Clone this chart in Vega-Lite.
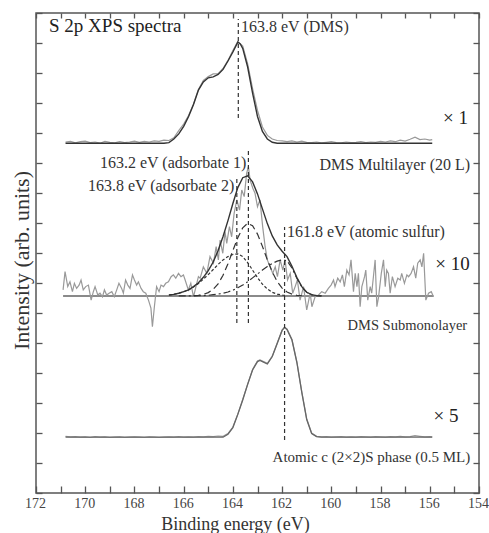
{
"$schema": "https://vega.github.io/schema/vega-lite/v6.json",
"width": 443,
"height": 480,
"autosize": {"type": "none"},
"padding": {"left": 36, "top": 13, "right": 10, "bottom": 40},
"config": {"view": {"stroke": "#555", "strokeWidth": 1.5}, "font": "Liberation Serif"},
"datasets": {
"base": [{"be": 170.9, "v": 6.57}, {"be": 155.85, "v": 6.57}],
"raw": [
{"s":"top","be":170.8,"v":11.70},{"s":"top","be":170.6,"v":11.72},{"s":"top","be":170.4,"v":11.67},{"s":"top","be":170.2,"v":11.71},{"s":"top","be":170.0,"v":11.73},{"s":"top","be":169.8,"v":11.68},{"s":"top","be":169.6,"v":11.70},{"s":"top","be":169.4,"v":11.66},{"s":"top","be":169.2,"v":11.72},{"s":"top","be":169.0,"v":11.69},{"s":"top","be":168.8,"v":11.67},{"s":"top","be":168.6,"v":11.71},{"s":"top","be":168.4,"v":11.68},{"s":"top","be":168.2,"v":11.70},{"s":"top","be":168.0,"v":11.73},{"s":"top","be":167.8,"v":11.69},{"s":"top","be":167.6,"v":11.72},{"s":"top","be":167.4,"v":11.70},{"s":"top","be":167.2,"v":11.74},{"s":"top","be":167.0,"v":11.72},{"s":"top","be":166.8,"v":11.76},{"s":"top","be":166.6,"v":11.75},{"s":"top","be":166.4,"v":11.84},{"s":"top","be":166.2,"v":12.08},{"s":"top","be":166.0,"v":12.30},{"s":"top","be":165.8,"v":12.58},{"s":"top","be":165.6,"v":12.97},{"s":"top","be":165.4,"v":13.45},{"s":"top","be":165.2,"v":13.75},{"s":"top","be":165.0,"v":13.88},{"s":"top","be":164.8,"v":13.97},{"s":"top","be":164.6,"v":13.98},{"s":"top","be":164.4,"v":14.15},{"s":"top","be":164.2,"v":14.42},{"s":"top","be":164.0,"v":14.75},{"s":"top","be":163.8,"v":15.05},{"s":"top","be":163.6,"v":14.90},{"s":"top","be":163.4,"v":14.30},{"s":"top","be":163.2,"v":13.48},{"s":"top","be":163.0,"v":12.75},{"s":"top","be":162.8,"v":12.20},{"s":"top","be":162.6,"v":11.92},{"s":"top","be":162.4,"v":11.80},{"s":"top","be":162.2,"v":11.75},{"s":"top","be":162.0,"v":11.74},{"s":"top","be":161.8,"v":11.71},{"s":"top","be":161.6,"v":11.74},{"s":"top","be":161.4,"v":11.70},{"s":"top","be":161.2,"v":11.73},{"s":"top","be":161.0,"v":11.69},{"s":"top","be":160.8,"v":11.68},{"s":"top","be":160.6,"v":11.70},{"s":"top","be":160.4,"v":11.67},{"s":"top","be":160.2,"v":11.69},{"s":"top","be":160.0,"v":11.71},{"s":"top","be":159.8,"v":11.68},{"s":"top","be":159.6,"v":11.67},{"s":"top","be":159.4,"v":11.70},{"s":"top","be":159.2,"v":11.68},{"s":"top","be":159.0,"v":11.69},{"s":"top","be":158.8,"v":11.71},{"s":"top","be":158.6,"v":11.68},{"s":"top","be":158.4,"v":11.70},{"s":"top","be":158.2,"v":11.69},{"s":"top","be":158.0,"v":11.72},{"s":"top","be":157.8,"v":11.70},{"s":"top","be":157.6,"v":11.74},{"s":"top","be":157.4,"v":11.71},{"s":"top","be":157.2,"v":11.76},{"s":"top","be":157.0,"v":11.73},{"s":"top","be":156.8,"v":11.79},{"s":"top","be":156.6,"v":11.86},{"s":"top","be":156.4,"v":11.78},{"s":"top","be":156.2,"v":11.80},{"s":"top","be":156.0,"v":11.76},{"s":"top","be":155.9,"v":11.78},
{"s":"mid","be":170.9,"v":6.77},{"s":"mid","be":170.82,"v":7.38},{"s":"mid","be":170.71,"v":6.88},{"s":"mid","be":170.62,"v":7.04},{"s":"mid","be":170.52,"v":6.71},{"s":"mid","be":170.44,"v":6.99},{"s":"mid","be":170.35,"v":6.82},{"s":"mid","be":170.25,"v":6.93},{"s":"mid","be":170.17,"v":7.10},{"s":"mid","be":170.08,"v":6.77},{"s":"mid","be":169.98,"v":6.88},{"s":"mid","be":169.87,"v":6.93},{"s":"mid","be":169.76,"v":6.43},{"s":"mid","be":169.67,"v":6.71},{"s":"mid","be":169.60,"v":6.88},{"s":"mid","be":169.49,"v":6.60},{"s":"mid","be":169.40,"v":6.66},{"s":"mid","be":169.30,"v":6.54},{"s":"mid","be":169.22,"v":6.77},{"s":"mid","be":169.13,"v":6.60},{"s":"mid","be":169.03,"v":6.66},{"s":"mid","be":168.92,"v":6.71},{"s":"mid","be":168.82,"v":6.54},{"s":"mid","be":168.72,"v":6.77},{"s":"mid","be":168.63,"v":6.99},{"s":"mid","be":168.52,"v":6.82},{"s":"mid","be":168.45,"v":6.66},{"s":"mid","be":168.36,"v":7.10},{"s":"mid","be":168.27,"v":6.93},{"s":"mid","be":168.18,"v":6.82},{"s":"mid","be":168.08,"v":7.27},{"s":"mid","be":168.00,"v":7.10},{"s":"mid","be":167.91,"v":6.93},{"s":"mid","be":167.84,"v":7.04},{"s":"mid","be":167.73,"v":6.82},{"s":"mid","be":167.64,"v":6.71},{"s":"mid","be":167.54,"v":6.66},{"s":"mid","be":167.43,"v":6.43},{"s":"mid","be":167.33,"v":6.16},{"s":"mid","be":167.27,"v":5.54},{"s":"mid","be":167.19,"v":6.21},{"s":"mid","be":167.10,"v":6.88},{"s":"mid","be":167.00,"v":6.71},{"s":"mid","be":166.92,"v":6.93},{"s":"mid","be":166.82,"v":6.88},{"s":"mid","be":166.73,"v":6.99},{"s":"mid","be":166.62,"v":7.04},{"s":"mid","be":166.51,"v":7.21},{"s":"mid","be":166.42,"v":7.27},{"s":"mid","be":166.32,"v":7.16},{"s":"mid","be":166.21,"v":7.32},{"s":"mid","be":166.11,"v":7.21},{"s":"mid","be":166.01,"v":7.27},{"s":"mid","be":165.94,"v":7.10},{"s":"mid","be":165.81,"v":6.77},{"s":"mid","be":165.71,"v":6.99},{"s":"mid","be":165.60,"v":6.54},{"s":"mid","be":165.50,"v":6.88},{"s":"mid","be":165.40,"v":7.21},{"s":"mid","be":165.33,"v":7.16},{"s":"mid","be":165.20,"v":7.54},{"s":"mid","be":165.06,"v":7.32},{"s":"mid","be":164.93,"v":7.88},{"s":"mid","be":164.79,"v":7.66},{"s":"mid","be":164.68,"v":8.21},{"s":"mid","be":164.59,"v":7.77},{"s":"mid","be":164.52,"v":8.43},{"s":"mid","be":164.41,"v":7.99},{"s":"mid","be":164.32,"v":8.71},{"s":"mid","be":164.25,"v":8.32},{"s":"mid","be":164.14,"v":8.88},{"s":"mid","be":164.05,"v":8.54},{"s":"mid","be":163.95,"v":9.32},{"s":"mid","be":163.84,"v":9.77},{"s":"mid","be":163.73,"v":9.43},{"s":"mid","be":163.64,"v":10.10},{"s":"mid","be":163.54,"v":9.88},{"s":"mid","be":163.44,"v":10.66},{"s":"mid","be":163.37,"v":10.88},{"s":"mid","be":163.30,"v":10.43},{"s":"mid","be":163.19,"v":10.16},{"s":"mid","be":163.10,"v":9.99},{"s":"mid","be":163.00,"v":9.54},{"s":"mid","be":162.90,"v":9.77},{"s":"mid","be":162.79,"v":8.88},{"s":"mid","be":162.69,"v":8.21},{"s":"mid","be":162.60,"v":7.77},{"s":"mid","be":162.49,"v":7.54},{"s":"mid","be":162.38,"v":7.32},{"s":"mid","be":162.28,"v":7.54},{"s":"mid","be":162.19,"v":7.21},{"s":"mid","be":162.08,"v":7.77},{"s":"mid","be":161.97,"v":7.43},{"s":"mid","be":161.88,"v":7.77},{"s":"mid","be":161.78,"v":7.10},{"s":"mid","be":161.67,"v":7.32},{"s":"mid","be":161.57,"v":6.66},{"s":"mid","be":161.47,"v":6.88},{"s":"mid","be":161.38,"v":7.10},{"s":"mid","be":161.27,"v":6.43},{"s":"mid","be":161.13,"v":6.88},{"s":"mid","be":161.00,"v":6.10},{"s":"mid","be":160.86,"v":6.66},{"s":"mid","be":160.79,"v":6.21},{"s":"mid","be":160.66,"v":6.54},{"s":"mid","be":160.52,"v":6.60},{"s":"mid","be":160.39,"v":6.71},{"s":"mid","be":160.25,"v":6.66},{"s":"mid","be":160.12,"v":6.82},{"s":"mid","be":160.01,"v":6.93},{"s":"mid","be":159.91,"v":7.10},{"s":"mid","be":159.85,"v":6.88},{"s":"mid","be":159.74,"v":7.16},{"s":"mid","be":159.64,"v":7.04},{"s":"mid","be":159.55,"v":7.27},{"s":"mid","be":159.47,"v":6.88},{"s":"mid","be":159.37,"v":7.43},{"s":"mid","be":159.28,"v":7.27},{"s":"mid","be":159.20,"v":7.77},{"s":"mid","be":159.10,"v":6.71},{"s":"mid","be":159.03,"v":7.32},{"s":"mid","be":158.96,"v":6.88},{"s":"mid","be":158.90,"v":7.32},{"s":"mid","be":158.83,"v":6.21},{"s":"mid","be":158.76,"v":6.88},{"s":"mid","be":158.65,"v":7.21},{"s":"mid","be":158.60,"v":7.43},{"s":"mid","be":158.52,"v":6.43},{"s":"mid","be":158.42,"v":6.88},{"s":"mid","be":158.36,"v":6.66},{"s":"mid","be":158.29,"v":7.21},{"s":"mid","be":158.22,"v":7.77},{"s":"mid","be":158.15,"v":6.21},{"s":"mid","be":158.08,"v":6.54},{"s":"mid","be":157.97,"v":7.32},{"s":"mid","be":157.88,"v":7.77},{"s":"mid","be":157.81,"v":6.88},{"s":"mid","be":157.75,"v":7.43},{"s":"mid","be":157.68,"v":7.32},{"s":"mid","be":157.61,"v":6.66},{"s":"mid","be":157.52,"v":7.21},{"s":"mid","be":157.41,"v":6.88},{"s":"mid","be":157.30,"v":7.16},{"s":"mid","be":157.20,"v":7.10},{"s":"mid","be":157.14,"v":7.32},{"s":"mid","be":157.03,"v":6.99},{"s":"mid","be":156.93,"v":7.27},{"s":"mid","be":156.86,"v":7.21},{"s":"mid","be":156.76,"v":7.32},{"s":"mid","be":156.66,"v":7.54},{"s":"mid","be":156.57,"v":7.16},{"s":"mid","be":156.49,"v":7.66},{"s":"mid","be":156.39,"v":7.77},{"s":"mid","be":156.32,"v":7.54},{"s":"mid","be":156.25,"v":7.99},{"s":"mid","be":156.16,"v":6.43},{"s":"mid","be":156.05,"v":6.66},{"s":"mid","be":155.94,"v":6.71},{"s":"mid","be":155.85,"v":6.54},
{"s":"bot","be":170.8,"v":1.89},{"s":"bot","be":170.6,"v":1.87},{"s":"bot","be":170.4,"v":1.88},{"s":"bot","be":170.2,"v":1.86},{"s":"bot","be":170.0,"v":1.87},{"s":"bot","be":169.8,"v":1.85},{"s":"bot","be":169.6,"v":1.88},{"s":"bot","be":169.4,"v":1.86},{"s":"bot","be":169.2,"v":1.87},{"s":"bot","be":169.0,"v":1.85},{"s":"bot","be":168.8,"v":1.86},{"s":"bot","be":168.6,"v":1.87},{"s":"bot","be":168.4,"v":1.85},{"s":"bot","be":168.2,"v":1.86},{"s":"bot","be":168.0,"v":1.87},{"s":"bot","be":167.8,"v":1.86},{"s":"bot","be":167.6,"v":1.85},{"s":"bot","be":167.4,"v":1.87},{"s":"bot","be":167.2,"v":1.86},{"s":"bot","be":167.0,"v":1.85},{"s":"bot","be":166.8,"v":1.86},{"s":"bot","be":166.6,"v":1.87},{"s":"bot","be":166.4,"v":1.86},{"s":"bot","be":166.2,"v":1.88},{"s":"bot","be":166.0,"v":1.86},{"s":"bot","be":165.8,"v":1.87},{"s":"bot","be":165.6,"v":1.86},{"s":"bot","be":165.4,"v":1.88},{"s":"bot","be":165.2,"v":1.87},{"s":"bot","be":165.0,"v":1.89},{"s":"bot","be":164.8,"v":1.88},{"s":"bot","be":164.6,"v":1.90},{"s":"bot","be":164.4,"v":1.89},{"s":"bot","be":164.2,"v":1.98},{"s":"bot","be":164.0,"v":2.20},{"s":"bot","be":163.8,"v":2.63},{"s":"bot","be":163.6,"v":3.12},{"s":"bot","be":163.4,"v":3.63},{"s":"bot","be":163.2,"v":4.12},{"s":"bot","be":163.0,"v":4.40},{"s":"bot","be":162.9,"v":4.44},{"s":"bot","be":162.8,"v":4.40},{"s":"bot","be":162.6,"v":4.32},{"s":"bot","be":162.4,"v":4.56},{"s":"bot","be":162.2,"v":4.99},{"s":"bot","be":162.0,"v":5.43},{"s":"bot","be":161.9,"v":5.53},{"s":"bot","be":161.8,"v":5.46},{"s":"bot","be":161.6,"v":5.12},{"s":"bot","be":161.4,"v":4.37},{"s":"bot","be":161.2,"v":3.37},{"s":"bot","be":161.0,"v":2.47},{"s":"bot","be":160.8,"v":2.00},{"s":"bot","be":160.6,"v":1.89},{"s":"bot","be":160.4,"v":1.87},{"s":"bot","be":160.2,"v":1.88},{"s":"bot","be":160.0,"v":1.86},{"s":"bot","be":159.8,"v":1.87},{"s":"bot","be":159.6,"v":1.88},{"s":"bot","be":159.4,"v":1.86},{"s":"bot","be":159.2,"v":1.87},{"s":"bot","be":159.0,"v":1.86},{"s":"bot","be":158.8,"v":1.88},{"s":"bot","be":158.6,"v":1.87},{"s":"bot","be":158.4,"v":1.86},{"s":"bot","be":158.2,"v":1.88},{"s":"bot","be":158.0,"v":1.87},{"s":"bot","be":157.8,"v":1.86},{"s":"bot","be":157.6,"v":1.88},{"s":"bot","be":157.4,"v":1.87},{"s":"bot","be":157.2,"v":1.89},{"s":"bot","be":157.0,"v":1.87},{"s":"bot","be":156.8,"v":1.88},{"s":"bot","be":156.6,"v":1.91},{"s":"bot","be":156.4,"v":1.89},{"s":"bot","be":156.2,"v":1.87},{"s":"bot","be":156.0,"v":1.88},{"s":"bot","be":155.9,"v":1.87}
],
"fit": [
{"s":"top","be":170.8,"v":11.66},{"s":"top","be":166.8,"v":11.66},{"s":"top","be":166.6,"v":11.68},{"s":"top","be":166.4,"v":11.80},{"s":"top","be":166.2,"v":11.97},{"s":"top","be":166.0,"v":12.22},{"s":"top","be":165.8,"v":12.55},{"s":"top","be":165.6,"v":12.95},{"s":"top","be":165.4,"v":13.43},{"s":"top","be":165.2,"v":13.70},{"s":"top","be":165.0,"v":13.84},{"s":"top","be":164.8,"v":13.87},{"s":"top","be":164.6,"v":13.95},{"s":"top","be":164.4,"v":14.12},{"s":"top","be":164.2,"v":14.40},{"s":"top","be":164.0,"v":14.70},{"s":"top","be":163.8,"v":15.03},{"s":"top","be":163.7,"v":14.97},{"s":"top","be":163.6,"v":14.82},{"s":"top","be":163.4,"v":14.20},{"s":"top","be":163.2,"v":13.33},{"s":"top","be":163.0,"v":12.55},{"s":"top","be":162.8,"v":12.05},{"s":"top","be":162.6,"v":11.80},{"s":"top","be":162.4,"v":11.69},{"s":"top","be":162.2,"v":11.66},{"s":"top","be":155.9,"v":11.66},
{"s":"mid","be":166.6,"v":6.60},{"s":"mid","be":166.4,"v":6.62},{"s":"mid","be":166.2,"v":6.66},{"s":"mid","be":166.0,"v":6.71},{"s":"mid","be":165.8,"v":6.77},{"s":"mid","be":165.6,"v":6.88},{"s":"mid","be":165.4,"v":7.01},{"s":"mid","be":165.2,"v":7.19},{"s":"mid","be":165.0,"v":7.41},{"s":"mid","be":164.8,"v":7.70},{"s":"mid","be":164.6,"v":8.08},{"s":"mid","be":164.4,"v":8.55},{"s":"mid","be":164.2,"v":9.08},{"s":"mid","be":164.0,"v":9.65},{"s":"mid","be":163.8,"v":10.18},{"s":"mid","be":163.6,"v":10.51},{"s":"mid","be":163.4,"v":10.57},{"s":"mid","be":163.2,"v":10.37},{"s":"mid","be":163.0,"v":9.97},{"s":"mid","be":162.8,"v":9.47},{"s":"mid","be":162.6,"v":8.98},{"s":"mid","be":162.4,"v":8.57},{"s":"mid","be":162.2,"v":8.27},{"s":"mid","be":162.0,"v":8.06},{"s":"mid","be":161.8,"v":7.88},{"s":"mid","be":161.6,"v":7.56},{"s":"mid","be":161.4,"v":7.18},{"s":"mid","be":161.2,"v":6.88},{"s":"mid","be":161.0,"v":6.69},{"s":"mid","be":160.8,"v":6.61},{"s":"mid","be":160.6,"v":6.58},{"s":"mid","be":160.4,"v":6.57}
],
"fitbot": [
{"be":170.8,"v":1.86},{"be":164.4,"v":1.86},{"be":164.2,"v":1.96},{"be":164.0,"v":2.18},{"be":163.8,"v":2.62},{"be":163.6,"v":3.10},{"be":163.4,"v":3.62},{"be":163.2,"v":4.10},{"be":163.0,"v":4.38},{"be":162.9,"v":4.42},{"be":162.8,"v":4.38},{"be":162.6,"v":4.30},{"be":162.4,"v":4.55},{"be":162.2,"v":4.98},{"be":162.0,"v":5.42},{"be":161.9,"v":5.52},{"be":161.8,"v":5.45},{"be":161.6,"v":5.10},{"be":161.4,"v":4.35},{"be":161.2,"v":3.35},{"be":161.0,"v":2.45},{"be":160.8,"v":1.98},{"be":160.6,"v":1.88},{"be":160.4,"v":1.86},{"be":155.9,"v":1.86}
],
"comp": [
{"c":"adsorbate 1","be":165.6,"v":6.58},{"c":"adsorbate 1","be":165.4,"v":6.59},{"c":"adsorbate 1","be":165.2,"v":6.62},{"c":"adsorbate 1","be":165.0,"v":6.68},{"c":"adsorbate 1","be":164.8,"v":6.79},{"c":"adsorbate 1","be":164.6,"v":6.97},{"c":"adsorbate 1","be":164.4,"v":7.26},{"c":"adsorbate 1","be":164.2,"v":7.64},{"c":"adsorbate 1","be":164.0,"v":8.08},{"c":"adsorbate 1","be":163.8,"v":8.51},{"c":"adsorbate 1","be":163.6,"v":8.84},{"c":"adsorbate 1","be":163.4,"v":8.99},{"c":"adsorbate 1","be":163.2,"v":8.91},{"c":"adsorbate 1","be":163.0,"v":8.63},{"c":"adsorbate 1","be":162.8,"v":8.22},{"c":"adsorbate 1","be":162.6,"v":7.77},{"c":"adsorbate 1","be":162.4,"v":7.37},{"c":"adsorbate 1","be":162.2,"v":7.05},{"c":"adsorbate 1","be":162.0,"v":6.83},{"c":"adsorbate 1","be":161.8,"v":6.70},{"c":"adsorbate 1","be":161.6,"v":6.63},{"c":"adsorbate 1","be":161.4,"v":6.59},{"c":"adsorbate 1","be":161.2,"v":6.58},
{"c":"adsorbate 2","be":166.6,"v":6.60},{"c":"adsorbate 2","be":166.4,"v":6.62},{"c":"adsorbate 2","be":166.2,"v":6.66},{"c":"adsorbate 2","be":166.0,"v":6.71},{"c":"adsorbate 2","be":165.8,"v":6.77},{"c":"adsorbate 2","be":165.6,"v":6.87},{"c":"adsorbate 2","be":165.4,"v":6.98},{"c":"adsorbate 2","be":165.2,"v":7.13},{"c":"adsorbate 2","be":165.0,"v":7.28},{"c":"adsorbate 2","be":164.8,"v":7.45},{"c":"adsorbate 2","be":164.6,"v":7.62},{"c":"adsorbate 2","be":164.4,"v":7.77},{"c":"adsorbate 2","be":164.2,"v":7.88},{"c":"adsorbate 2","be":164.0,"v":7.95},{"c":"adsorbate 2","be":163.8,"v":7.97},{"c":"adsorbate 2","be":163.6,"v":7.88},{"c":"adsorbate 2","be":163.4,"v":7.68},{"c":"adsorbate 2","be":163.2,"v":7.43},{"c":"adsorbate 2","be":163.0,"v":7.18},{"c":"adsorbate 2","be":162.8,"v":6.96},{"c":"adsorbate 2","be":162.6,"v":6.80},{"c":"adsorbate 2","be":162.4,"v":6.69},{"c":"adsorbate 2","be":162.2,"v":6.63},{"c":"adsorbate 2","be":162.0,"v":6.60},{"c":"adsorbate 2","be":161.8,"v":6.58},
{"c":"atomic","be":166.2,"v":6.57},{"c":"atomic","be":166.0,"v":6.57},{"c":"atomic","be":165.8,"v":6.57},{"c":"atomic","be":165.6,"v":6.57},{"c":"atomic","be":165.4,"v":6.58},{"c":"atomic","be":165.2,"v":6.58},{"c":"atomic","be":165.0,"v":6.59},{"c":"atomic","be":164.8,"v":6.61},{"c":"atomic","be":164.6,"v":6.63},{"c":"atomic","be":164.4,"v":6.66},{"c":"atomic","be":164.2,"v":6.70},{"c":"atomic","be":164.0,"v":6.76},{"c":"atomic","be":163.8,"v":6.84},{"c":"atomic","be":163.6,"v":6.93},{"c":"atomic","be":163.4,"v":7.04},{"c":"atomic","be":163.2,"v":7.17},{"c":"atomic","be":163.0,"v":7.30},{"c":"atomic","be":162.8,"v":7.43},{"c":"atomic","be":162.6,"v":7.55},{"c":"atomic","be":162.4,"v":7.65},{"c":"atomic","be":162.2,"v":7.73},{"c":"atomic","be":162.0,"v":7.77},{"c":"atomic","be":161.8,"v":7.74},{"c":"atomic","be":161.6,"v":7.50},{"c":"atomic","be":161.4,"v":7.16},{"c":"atomic","be":161.2,"v":6.87},{"c":"atomic","be":161.0,"v":6.69},{"c":"atomic","be":160.8,"v":6.61},{"c":"atomic","be":160.6,"v":6.58},{"c":"atomic","be":160.4,"v":6.57}
],
"vrules": [
{"be": 163.78, "y1": 12.5, "y2": 15.8},
{"be": 163.37, "y1": 5.67, "y2": 11.4},
{"be": 163.84, "y1": 5.67, "y2": 10.5},
{"be": 161.9, "y1": 1.77, "y2": 8.87}
]
},
"layer": [
{
"data": {"name": "base"},
"mark": {"type": "line", "color": "#8a8a8a", "strokeWidth": 2},
"encoding": {
"x": {"field": "be", "type": "quantitative", "scale": {"domain": [154, 172], "reverse": true, "nice": false, "zero": false},
"axis": {"orient": "bottom", "values": [154,155,156,157,158,159,160,161,162,163,164,165,166,167,168,169,170,171,172], "labelExpr": "datum.value % 2 === 0 ? datum.label : ''", "tickSize": -7, "tickColor": "#555", "tickWidth": 1.3, "labelPadding": 10, "labelOffset": -1, "labelFlush": false, "labelOverlap": false, "domain": false, "grid": false, "labelFont": "Liberation Serif", "labelFontSize": 14, "labelColor": "#444", "title": "Binding energy (eV)", "titleFont": "Liberation Serif", "titleFontSize": 18, "titleFontWeight": "normal", "titleColor": "#333", "titleX": 199, "titleY": 36, "titleBaseline": "alphabetic", "titleAlign": "center"}},
"y": {"field": "v", "type": "quantitative", "scale": {"domain": [0, 16], "nice": false, "zero": false},
"axis": {"orient": "left", "values": [0,1,2,3,4,5,6,7,8,9,10,11,12,13,14,15,16], "labels": false, "tickSize": -6, "tickColor": "#555", "tickWidth": 1.3, "domain": false, "grid": false, "title": "Intensity (arb. units)", "titleFont": "Liberation Serif", "titleFontSize": 22, "titleFontWeight": "normal", "titleColor": "#333", "titleAngle": 270, "titleX": -8, "titleY": 247, "titleBaseline": "alphabetic", "titleAlign": "center"}}
}
},
{
"data": {"name": "raw"},
"mark": {"type": "line", "color": "#999", "strokeWidth": 1.2},
"encoding": {
"x": {"field": "be", "type": "quantitative", "scale": {"domain": [154, 172], "reverse": true, "nice": false, "zero": false},
"axis": {"orient": "top", "values": [154,155,156,157,158,159,160,161,162,163,164,165,166,167,168,169,170,171,172], "labels": false, "tickSize": -5, "tickColor": "#555", "tickWidth": 1.3, "domain": false, "grid": false, "title": null}},
"y": {"field": "v", "type": "quantitative", "scale": {"domain": [0, 16], "nice": false, "zero": false},
"axis": {"orient": "right", "values": [0,1,2,3,4,5,6,7,8,9,10,11,12,13,14,15,16], "labels": false, "tickSize": -6, "tickColor": "#555", "tickWidth": 1.3, "domain": false, "grid": false, "title": null}},
"detail": {"field": "s"}
}
},
{
"data": {"name": "fit"},
"mark": {"type": "line", "color": "#333", "strokeWidth": 1.4},
"encoding": {
"x": {"field": "be", "type": "quantitative", "scale": {"domain": [154, 172], "reverse": true, "nice": false, "zero": false}, "axis": null},
"y": {"field": "v", "type": "quantitative", "scale": {"domain": [0, 16], "nice": false, "zero": false}, "axis": null},
"detail": {"field": "s"}
}
},
{
"data": {"name": "fitbot"},
"mark": {"type": "line", "color": "#666", "strokeWidth": 1.3},
"encoding": {
"x": {"field": "be", "type": "quantitative", "scale": {"domain": [154, 172], "reverse": true, "nice": false, "zero": false}, "axis": null},
"y": {"field": "v", "type": "quantitative", "scale": {"domain": [0, 16], "nice": false, "zero": false}, "axis": null}
}
},
{
"data": {"name": "comp"},
"mark": {"type": "line", "color": "#333", "strokeWidth": 1.2},
"encoding": {
"x": {"field": "be", "type": "quantitative", "scale": {"domain": [154, 172], "reverse": true, "nice": false, "zero": false}, "axis": null},
"y": {"field": "v", "type": "quantitative", "scale": {"domain": [0, 16], "nice": false, "zero": false}, "axis": null},
"strokeDash": {"field": "c", "type": "nominal", "scale": {"domain": ["adsorbate 1", "adsorbate 2", "atomic"], "range": [[7, 4], [3, 2], [7, 3, 2, 3]]}, "legend": null}
}
},
{
"data": {"name": "vrules"},
"mark": {"type": "rule", "color": "#333", "strokeWidth": 1.2, "strokeDash": [4, 3]},
"encoding": {
"x": {"field": "be", "type": "quantitative", "scale": {"domain": [154, 172], "reverse": true, "nice": false, "zero": false}, "axis": null},
"y": {"field": "y1", "type": "quantitative", "scale": {"domain": [0, 16], "nice": false, "zero": false}, "axis": null},
"y2": {"field": "y2"}
}
},
{
"data": {"values": [{"be": 171.47, "v": 15.37, "t": "S 2p XPS spectra"}]},
"mark": {"type": "text", "align": "left", "baseline": "alphabetic", "font": "Liberation Serif", "fontSize": 19, "color": "#222"},
"encoding": {
"x": {"field": "be", "type": "quantitative", "scale": {"domain": [154, 172], "reverse": true, "nice": false, "zero": false}, "axis": null},
"y": {"field": "v", "type": "quantitative", "scale": {"domain": [0, 16], "nice": false, "zero": false}, "axis": null},
"text": {"field": "t"}
}
},
{
"data": {"values": [
{"be": 163.67, "v": 15.38, "t": "163.8 eV (DMS)"},
{"be": 169.4, "v": 10.83, "t": "163.2 eV (adsorbate 1)"},
{"be": 169.89, "v": 10.08, "t": "163.8 eV (adsorbate 2)"},
{"be": 161.8, "v": 8.53, "t": "161.8 eV (atomic sulfur)"}
]},
"mark": {"type": "text", "align": "left", "baseline": "alphabetic", "font": "Liberation Serif", "fontSize": 16, "color": "#333"},
"encoding": {
"x": {"field": "be", "type": "quantitative", "scale": {"domain": [154, 172], "reverse": true, "nice": false, "zero": false}, "axis": null},
"y": {"field": "v", "type": "quantitative", "scale": {"domain": [0, 16], "nice": false, "zero": false}, "axis": null},
"text": {"field": "t"}
}
},
{
"data": {"values": [{"be": 154.36, "v": 10.77, "t": "DMS Multilayer (20 L)"}]},
"mark": {"type": "text", "align": "right", "baseline": "alphabetic", "font": "Liberation Serif", "fontSize": 16, "color": "#333"},
"encoding": {
"x": {"field": "be", "type": "quantitative", "scale": {"domain": [154, 172], "reverse": true, "nice": false, "zero": false}, "axis": null},
"y": {"field": "v", "type": "quantitative", "scale": {"domain": [0, 16], "nice": false, "zero": false}, "axis": null},
"text": {"field": "t"}
}
},
{
"data": {"values": [{"be": 154.48, "v": 5.43, "t": "DMS Submonolayer"}]},
"mark": {"type": "text", "align": "right", "baseline": "alphabetic", "font": "Liberation Serif", "fontSize": 14.5, "color": "#333"},
"encoding": {
"x": {"field": "be", "type": "quantitative", "scale": {"domain": [154, 172], "reverse": true, "nice": false, "zero": false}, "axis": null},
"y": {"field": "v", "type": "quantitative", "scale": {"domain": [0, 16], "nice": false, "zero": false}, "axis": null},
"text": {"field": "t"}
}
},
{
"data": {"values": [{"be": 154.36, "v": 1.04, "t": "Atomic c (2×2)S phase (0.5 ML)"}]},
"mark": {"type": "text", "align": "right", "baseline": "alphabetic", "font": "Liberation Serif", "fontSize": 15, "color": "#333"},
"encoding": {
"x": {"field": "be", "type": "quantitative", "scale": {"domain": [154, 172], "reverse": true, "nice": false, "zero": false}, "axis": null},
"y": {"field": "v", "type": "quantitative", "scale": {"domain": [0, 16], "nice": false, "zero": false}, "axis": null},
"text": {"field": "t"}
}
},
{
"data": {"values": [
{"be": 155.46, "v": 12.3, "t": "× 1"},
{"be": 155.78, "v": 7.43, "t": "× 10"},
{"be": 155.85, "v": 2.38, "t": "× 5"}
]},
"mark": {"type": "text", "align": "left", "baseline": "alphabetic", "font": "Liberation Serif", "fontSize": 19, "color": "#222"},
"encoding": {
"x": {"field": "be", "type": "quantitative", "scale": {"domain": [154, 172], "reverse": true, "nice": false, "zero": false}, "axis": null},
"y": {"field": "v", "type": "quantitative", "scale": {"domain": [0, 16], "nice": false, "zero": false}, "axis": null},
"text": {"field": "t"}
}
}
],
"resolve": {"axis": {"x": "independent", "y": "independent"}}
}
